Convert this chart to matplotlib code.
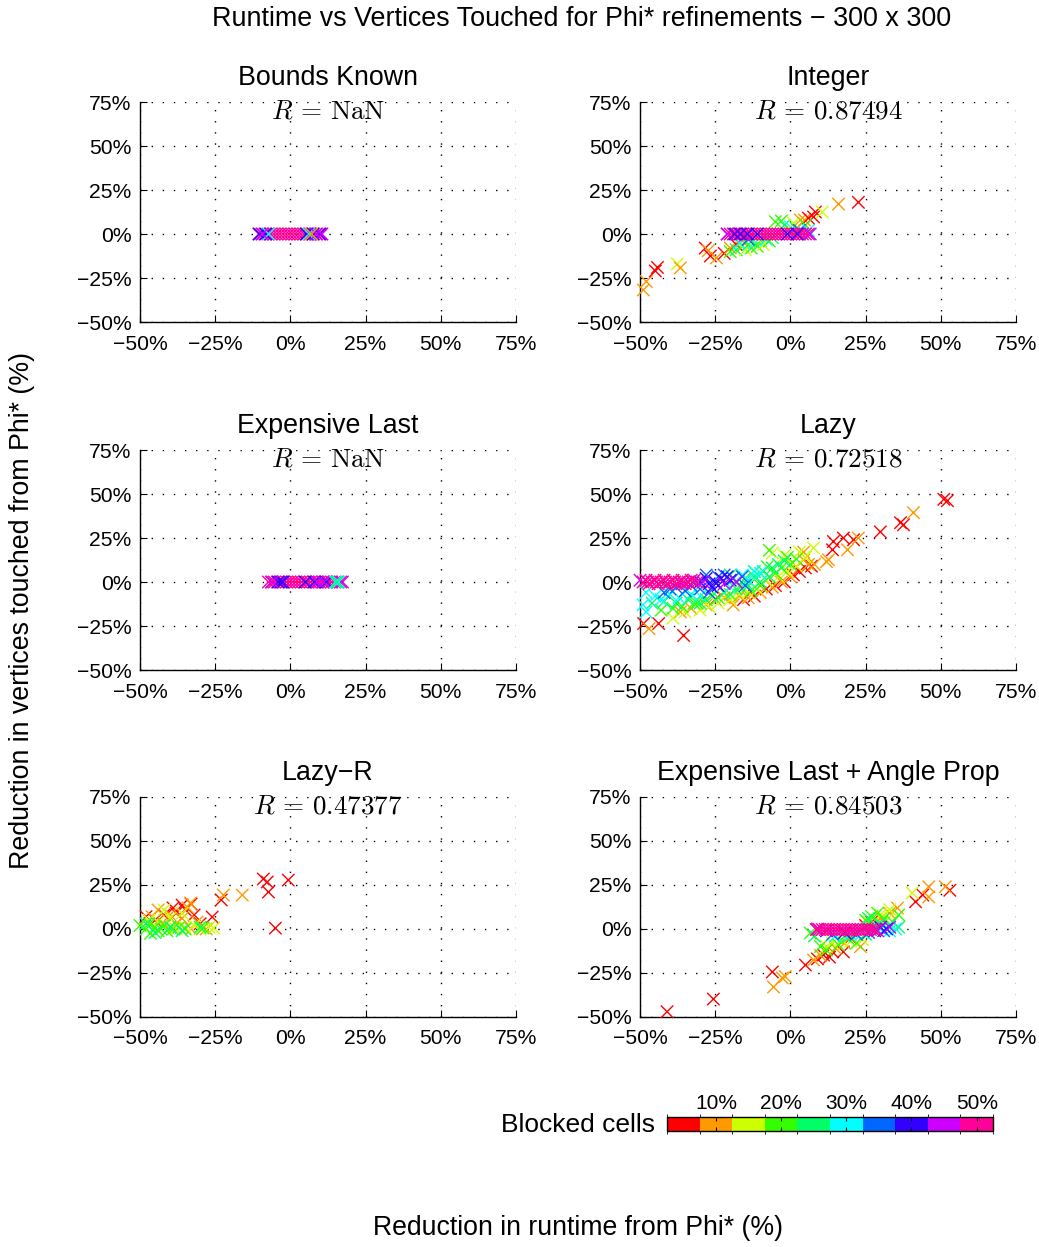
import numpy as np
import matplotlib
matplotlib.use("Agg")
import matplotlib.pyplot as plt
from matplotlib.colors import ListedColormap, BoundaryNorm, hsv_to_rgb
from matplotlib.ticker import FuncFormatter

plt.rcParams['font.family'] = ['Liberation Sans', 'DejaVu Sans']
plt.rcParams['mathtext.fontset'] = 'cm'

# ---- data ----
titles = ["Bounds Known", "Integer", "Expensive Last", "Lazy", "Lazy\u2212R",
          "Expensive Last + Angle Prop"]
r_values = ["NaN", "0.87494", "NaN", "0.72518", "0.47377", "0.84503"]
levels = [5, 10, 15, 20, 25, 30, 35, 40, 45, 50]
ticks = [-50, -25, 0, 25, 50, 75]
cb_ticks = [10, 20, 30, 40, 50]

# Bounds Known
bk_x = [-10.5, -9.5, -8.5, -7.5, -6.5, -5.5, -4.5, -3.5, -2.5, -1.5, -0.5, 0.5,
        1.5, 2.5, 3.5, 4.5, 5.5, 6.5, 7.5, 8.5, 9.5, 10.5,
        -10.3, -8.2, 5.3, 7.6, 9.8, -7.2, 6.2, -9.3, 8.7, 10.3, 7.0]
bk_y = [0] * 33
bk_b = [50] * 22 + [40, 40, 40, 40, 40, 30, 30, 45, 45, 45, 10]

# Integer
in_x = [-48.9, -47.9, -44.9, -44.2, -37.6, -36.6, -28.3, -27.3, -26.6, -24.6, -22, -20, -18, -16,
        -20, -18, -16, -15, -14, -13, -12, -11, -10, -9, -8, -7, -6, -17, -14,
        -5, -3, -2, 0, 1, 2, 3.3, 4.7, 6, 7.7, 8.3, 10.6, 16, 22.6, 5, 3, 6,
        -21, -20, -19, -18, -17, -16, -15, -14, -13, -12, -11, -10, -9, -8, -7, -6, -5,
        -4, -3, -2, -1, 0, 1, 2, 3, 4, 5, 6,
        -21, -18.5, -16.6, -14.3, -11, -1, 2.3, 6.6]
in_y = [-31.8, -27, -21, -19, -17, -19.3, -8, -9.5, -12.5, -13.6, -11, -8, -6, -4,
        -10, -9, -7, -9, -6, -8, -5, -7, -4, -6, -3, -4, -2, -5, -3,
        7, 7.4, 5, 4, 6, 3, 8, 8, 9, 9.7, 12.5, 12.5, 17, 18, 5, 2, 2,
        0, 0, 0, 0, 0, 0, 0, 0, 0, 0, 0, 0, 0, 0, 0, 0, 0,
        0, 0, 0, 0, 0, 0, 0, 0, 0, 0, 0,
        0, 0, 0, 0, 0, 0, 0, 0]
in_b = [10, 10, 5, 5, 15, 10, 5, 10, 5, 10, 5, 10, 5, 10,
        20, 25, 20, 15, 25, 20, 30, 20, 25, 15, 30, 20, 25, 30, 35,
        20, 20, 25, 30, 15, 25, 10, 10, 5, 5, 5, 15, 10, 5, 20, 35, 30,
        50, 50, 50, 50, 50, 50, 50, 50, 50, 50, 50, 50, 50, 50, 50, 50, 50,
        50, 50, 50, 50, 50, 50, 50, 50, 50, 50, 50,
        45, 40, 40, 40, 40, 40, 40, 45]

# Expensive Last
el_x = [-7.3, -6.3, -5.3, -4.3, -3.3, -2.3, -1.3, -0.3, 0.7, 1.7, 2.7, 3.7, 4.7,
        5.7, 6.7, 7.7, 8.7, 9.7, 10.7, 11.7, 12.7, 13.7, 14.7, 15.7, 16.7,
        -4, -3, -2.5, 5, 8, 12, -6, 9, 11, 17.3, 15, 16, 15.5]
el_y = [0] * 38
el_b = [50] * 25 + [40, 40, 40, 40, 40, 40, 45, 45, 45, 45, 30, 30, 25]

# Lazy
lz_x = [-48.8, -43.8, -35.5, -25, -15.6, -12, -8, -5, -2, 1, 3, 5, 7, 14, 14.3, 17.6, 21,
        29.9, 36.6, 37.6, 52.2, 51,
        -47, -36.6, -33, -28, -19, -22, -17, -14, -10, -6, -3, 0, 4.4, 4.4, 6, 8, 12,
        12.7, 19, 22.6, 40.9,
        -39, -35, -30, -27, -24, -20, -17, -14, -11, -6, -8, -4, -1, 2, 5, 7.7, 3, -2,
        -43, -39, -36, -32, -31, -28, -24, -20, -16.6, -13, -10, -7.7, -7, -5, -3, 0,
        -1, 2, -15, -12,
        -46, -42, -38, -34, -30, -26, -22, -18, -14, -12, -9, -6, -4, -2, -20, -10, -7,
        -48, -49, -48, -45, -43, -40, -37, -33, -30, -20, -16, -12, -10, -14,
        -42, -40, -38, -35, -33, -30, -27, -24, -22, -19, -16, -15, -28,
        -30, -28, -27, -25, -23, -21, -26, -20, -24,
        -50, -36, -32, -29, -22, -18,
        -49, -47.5, -46, -44.5, -43, -41.5, -40, -38.5, -37, -35.5, -34, -32.5, -31,
        -48, -45, -42, -39, -36, -33, -47, -44, -41, -38, -35]
lz_y = [-23.6, -23.6, -30.4, -10, -10, -8, -4, -2, 0, 4, 6, 8, 9, 18.3, 23, 25, 24,
        28.5, 33.7, 32.5, 46.2, 47,
        -26.5, -17, -15, -13, -13, -9, -8, -9, -6, -3, 0, 3, 12.5, 17, 10, 10, 11.6,
        12.6, 18.3, 25, 39.4,
        -20.5, -17, -16, -14, -12, -10, -7, -6, -4, 16.5, 1, 3, 6, 9, 14, 19.4, 17, 15,
        -16, -15, -14, -12, -12, -10, -9, -7, -3, -5, -2, 8.6, 18, 5, 8, 10,
        14, 13, 2, 6,
        -12, -11, -12, -10, -12, -8, -6, -4, -2, 3, 6, 8, 10, 12, 4, 0, 3,
        -6, -13, -17, -8, -10, -7, -9, -7, -8, -3, 4, 6, 5, 1,
        -6, -4, -3, -5, -2, -4, -6, 3, 4, 2, 3, -2, 4,
        0, 2, -1, 0, 2, 3, -3, 1, -2,
        1, -1, 1, 0, -1, 0,
        0, 0, 0, 0, 0, 0, 0, 0, 0, 0, 0, 0, 0,
        1, 1, 1, 1, 1, 1, -1, -1, -1, -1, -1]
lz_b = [5] * 22 + [10] * 21 + [15] * 18 + [20] * 20 + [25] * 17 + [30] * 14 \
    + [35] * 13 + [40] * 9 + [45] * 6 + [50] * 24

# Lazy-R
lr_x = [-0.7, -9, -7.7, -7.3, -5, -23, -26, -33, -36, -39, -48, -45, -42, -38, -35, -30, -32,
        -16, -22.3, -33.2, -44, -40, -36, -33, -31, -38, -28, -34, -46, -42,
        -42, -40, -36, -25.5, -27, -30, -44, -47, -38, -32, -35,
        -46.5, -50, -48, -45, -43, -41, -39, -37, -35, -29, -44, -47, -42,
        -48, -45, -40, -36, -30]
lr_y = [27.8, 28.4, 26.7, 21, 0.5, 16.5, 6.8, 14.2, 13.6, 12, 7, 5, 8, 9, 11, 3, 8,
        19.3, 19.3, 14.8, 10.8, 8, 6, 0, 4, 3, 0, 12, 7, 3,
        10.8, 6, 9, 0.5, 1, 0, 4, 5, 0, 2, 1,
        -2.5, 2, 0, 1, 0, -1, 0, 1, 0, 0.6, -1, 3, 2,
        3, -2, 1, -1, 1]
lr_b = [5] * 17 + [10] * 13 + [15] * 11 + [20] * 13 + [25] * 5

# Expensive Last + Angle Prop
ea_x = [-41, -25.6, -6, 5, 11, 17.6, 9, 14, 13, 41.6, 44, 53, 20, 22, 25, 27,
        -2.7, -5.6, -1.7, 7.7, 23.3, 46, 46, 51.5, 35.6, 10, 15, 18, 30, 33, 28,
        40.5, 14, 17, 20, 12, 30, 33, 26, 24, 32,
        6.6, 12, 16, 19, 22, 27, 29, 31, 34, 25, 36, 10,
        8, 18, 25, 28, 30, 33, 36, 26,
        15, 20, 24, 30, 33, 35,
        14, 22, 26, 31,
        12, 18, 28, 30, 32,
        9, 20, 29, 33,
        8.6, 9.6, 10.6, 11.6, 12.6, 13.6, 14.6, 15.6, 16.6, 17.6, 18.6, 19.6, 20.6,
        21.6, 22.6, 23.6, 24.6, 25.6, 26.6, 27.6, 28.4]
ea_y = [-47, -39.8, -24.4, -20.5, -14.8, -13, -17, -13, -16, 15.5, 19.3, 22, -5, -3, 2, 4,
        -27.8, -33, -27, -17.6, -10, 24, 18.2, 24, 11.9, -15, -11, -8, 6, 9, 3,
        20.5, -8, -6, -7, -10, 8, 11, 4, -6, 5,
        -2.3, -12, -9, -5, -8, 7, 9, 6, 4, 5, 8, -10,
        -4, -4, -3, 1, 3, 2, 1, 6,
        -4, -3, -2, 0, -1, 0,
        -3, -3, -2, -1,
        -1, -2, -1, 1, 0,
        0, -1, -1, 1,
        -0.3, -0.3, -0.3, -0.3, -0.3, -0.3, -0.3, -0.3, -0.3, -0.3, -0.3, -0.3, -0.3,
        -0.3, -0.3, -0.3, -0.3, -0.3, -0.3, -0.3, -0.3]
ea_b = [5] * 16 + [10] * 15 + [15] * 10 + [20] * 12 + [25] * 8 + [30] * 6 \
    + [35] * 4 + [40] * 5 + [45] * 4 + [50] * 21

panels = [(bk_x, bk_y, bk_b), (in_x, in_y, in_b), (el_x, el_y, el_b),
          (lz_x, lz_y, lz_b), (lr_x, lr_y, lr_b), (ea_x, ea_y, ea_b)]

# ---- style ----
W, H = 1039, 1247
colors = [hsv_to_rgb((i / 10, 1, 1)) for i in range(10)]
cmap = ListedColormap(colors)
bounds = [2.5 + 5 * i for i in range(11)]
norm = BoundaryNorm(bounds, cmap.N)

fig = plt.figure(figsize=(W / 100, H / 100), dpi=100)

col_left = [140, 640]
row_top = [102, 450, 797]
ax_w, ax_h = 376, 220

pct = FuncFormatter(lambda v, p: f"{v:g}%".replace("-", "\u2212"))

sc = None
for i, (px, py, pb) in enumerate(panels):
    r, c = divmod(i, 2)
    ax = fig.add_axes([col_left[c] / W, 1 - (row_top[r] + ax_h) / H, ax_w / W, ax_h / H])
    # markers on the axis edge are not cut off, as in the original
    sc = ax.scatter(px, py, c=pb, cmap=cmap, norm=norm, marker='x', s=80,
                    linewidths=1.0, zorder=3, clip_on=False)
    ax.set_xlim(-50, 75)
    ax.set_ylim(-50, 75)
    ax.set_xticks(ticks)
    ax.set_yticks(ticks)
    ax.xaxis.set_major_formatter(pct)
    ax.yaxis.set_major_formatter(pct)
    ax.tick_params(direction='in', length=5, width=0.8, labelsize=15.2)
    ax.tick_params(axis='y', pad=6)
    ax.tick_params(axis='x', pad=9)
    ax.grid(True, color='black', linestyle=(0, (1, 7)), linewidth=1.0)
    for s in ['top', 'right']:
        ax.spines[s].set_visible(False)
    for s in ['left', 'bottom']:
        ax.spines[s].set_linewidth(1.0)
    ax.set_title(titles[i], fontsize=19.3, pad=12.5)
    ax.text(0.5, 0.955, rf"$R\,=\,\mathrm{{{r_values[i]}}}$", transform=ax.transAxes,
            ha='center', va='center', fontsize=19.5)

fig.text(0.5 * (213 + 950) / W, 1 - 19 / H,
         "Runtime vs Vertices Touched for Phi* refinements \u2212 300 x 300",
         ha='center', va='center', fontsize=19.4)
fig.text(578 / W, 1 - 1228 / H, "Reduction in runtime from Phi* (%)",
         ha='center', va='center', fontsize=19.2)
fig.text(22 / W, 1 - 611 / H, "Reduction in vertices touched from Phi* (%)",
         ha='center', va='center', rotation=90, fontsize=19.3)

# colorbar
cax = fig.add_axes([667 / W, 1 - 1131 / H, 326 / W, 14 / H])
cb = fig.colorbar(sc, cax=cax, orientation='horizontal', ticks=cb_ticks)
cb.outline.set_linewidth(1.0)
cax.xaxis.set_ticks_position('both')
cax.xaxis.set_label_position('top')
cax.tick_params(axis='x', direction='in', length=3, width=0.8, labeltop=True,
                labelbottom=False, labelsize=15, pad=3)
cax.set_xticklabels([f"{t}%" for t in cb_ticks])
fig.text(655 / W, 1 - 1125 / H, "Blocked cells", ha='right', va='center', fontsize=19)

fig.savefig("out.png", dpi=100)
